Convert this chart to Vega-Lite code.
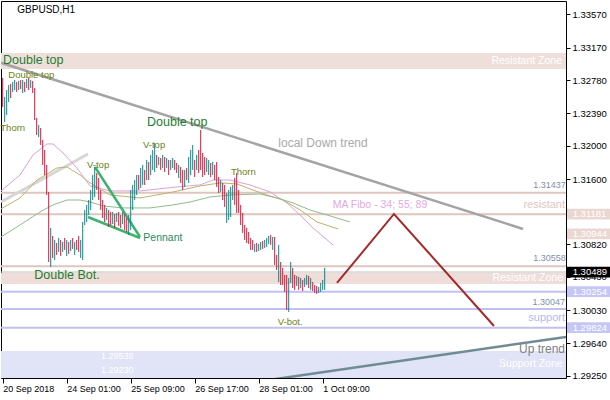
{
"$schema": "https://vega.github.io/schema/vega-lite/v6.json",
"width": 565, "height": 377,
"autosize": {"type": "none"},
"padding": {"left": 1, "top": 1, "right": 44, "bottom": 22},
"background": "white",
"config": {"view": {"stroke": "#000000", "strokeWidth": 1}, "font": "Liberation Sans",
 "axis": {"labelOverlap": false, "labelBound": false, "labelFlush": false, "grid": false, "domain": false, "title": null, "tickColor": "#000000", "labelColor": "#000000"}},
"datasets": {
"zones": [{"z":"top","lo":1.32916,"hi":1.33107},{"z":"mid","lo":1.30346,"hi":1.30478},{"z":"sup","lo":1.29222,"hi":1.29545}],
"levels": [{"p":1.31437,"k":"pink"},{"p":1.31181,"k":"pink"},{"p":1.30558,"k":"pink"},{"p":1.30254,"k":"lav"},{"p":1.30047,"k":"lav"},{"p":1.29824,"k":"lav"},{"p":1.30489,"k":"gray"}],
"ma": [
{"m":"pink","i":-0.85,"p":1.31458},{"m":"pink","i":8.65,"p":1.31649},{"m":"pink","i":15.15,"p":1.31888},{"m":"pink","i":22.15,"p":1.3202},{"m":"pink","i":25.15,"p":1.3202},{"m":"pink","i":30.15,"p":1.31912},{"m":"pink","i":37.15,"p":1.31733},{"m":"pink","i":43.65,"p":1.31518},{"m":"pink","i":53.65,"p":1.31458},{"m":"pink","i":68.65,"p":1.31458},{"m":"pink","i":87.15,"p":1.31506},{"m":"pink","i":98.65,"p":1.3153},{"m":"pink","i":105.15,"p":1.31589},{"m":"pink","i":113.65,"p":1.31589},{"m":"pink","i":123.65,"p":1.3153},{"m":"pink","i":133.65,"p":1.31446},{"m":"pink","i":142.15,"p":1.31315},{"m":"pink","i":148.65,"p":1.31171},{"m":"pink","i":155.15,"p":1.31016},{"m":"pink","i":165.15,"p":1.30813},
{"m":"olive","i":-0.85,"p":1.31243},{"m":"olive","i":8.65,"p":1.31374},{"m":"olive","i":17.15,"p":1.31589},{"m":"olive","i":27.15,"p":1.31733},{"m":"olive","i":32.15,"p":1.31745},{"m":"olive","i":38.65,"p":1.31649},{"m":"olive","i":43.65,"p":1.31554},{"m":"olive","i":53.65,"p":1.3141},{"m":"olive","i":68.65,"p":1.31374},{"m":"olive","i":85.15,"p":1.31446},{"m":"olive","i":98.65,"p":1.31518},{"m":"olive","i":108.65,"p":1.31554},{"m":"olive","i":117.15,"p":1.31542},{"m":"olive","i":123.65,"p":1.31482},{"m":"olive","i":132.15,"p":1.3141},{"m":"olive","i":140.15,"p":1.3135},{"m":"olive","i":148.65,"p":1.31231},{"m":"olive","i":157.15,"p":1.31087},{"m":"olive","i":167.65,"p":1.31004},
{"m":"green","i":-0.85,"p":1.30908},{"m":"green","i":8.65,"p":1.31051},{"m":"green","i":18.65,"p":1.31207},{"m":"green","i":25.15,"p":1.31291},{"m":"green","i":32.15,"p":1.3135},{"m":"green","i":38.65,"p":1.3135},{"m":"green","i":43.65,"p":1.31326},{"m":"green","i":50.15,"p":1.31279},{"m":"green","i":60.15,"p":1.31255},{"m":"green","i":73.65,"p":1.31255},{"m":"green","i":85.15,"p":1.31291},{"m":"green","i":93.65,"p":1.31326},{"m":"green","i":103.65,"p":1.31386},{"m":"green","i":113.65,"p":1.3141},{"m":"green","i":128.65,"p":1.31422},{"m":"green","i":137.15,"p":1.31374},{"m":"green","i":145.15,"p":1.31315},{"m":"green","i":153.65,"p":1.31231},{"m":"green","i":162.15,"p":1.31171},{"m":"green","i":173.65,"p":1.31087}
],
"paths": [
{"g":"lg","i":-0.85,"p":1.31326},{"g":"lg","i":42.65,"p":1.319},
{"g":"down","i":-0.85,"p":1.3299},{"g":"down","i":260.15,"p":1.31004},
{"g":"up","i":133.65,"p":1.292},{"g":"up","i":281.65,"p":1.29713},
{"g":"red","i":167.15,"p":1.30358},{"g":"red","i":195.65,"p":1.31183},{"g":"red","i":245.65,"p":1.29844},
{"g":"pen1","i":46.15,"p":1.31745},{"g":"pen1","i":68.65,"p":1.30908},
{"g":"pen2","i":42.65,"p":1.31147},{"g":"pen2","i":68.65,"p":1.30896}
],
"bars": [
{"i":0,"h":1.32809,"l":1.32462,"d":"d"},{"i":1,"h":1.32582,"l":1.32283,"d":"u"},{"i":2,"h":1.32665,"l":1.32366,"d":"u"},{"i":3,"h":1.32725,"l":1.32522,"d":"u"},{"i":4,"h":1.32737,"l":1.3257,"d":"d"},{"i":5,"h":1.32761,"l":1.32641,"d":"u"},{"i":6,"h":1.32785,"l":1.32665,"d":"u"},{"i":7,"h":1.32761,"l":1.32641,"d":"d"},{"i":8,"h":1.32773,"l":1.32665,"d":"u"},{"i":9,"h":1.32785,"l":1.32677,"d":"d"},
{"i":10,"h":1.32785,"l":1.32629,"d":"u"},{"i":11,"h":1.32761,"l":1.32641,"d":"d"},{"i":12,"h":1.32797,"l":1.32689,"d":"u"},{"i":13,"h":1.32809,"l":1.32665,"d":"d"},{"i":14,"h":1.32785,"l":1.32689,"d":"u"},{"i":15,"h":1.32773,"l":1.32629,"d":"d"},{"i":16,"h":1.32689,"l":1.32307,"d":"d"},{"i":17,"h":1.32331,"l":1.32127,"d":"d"},{"i":18,"h":1.32247,"l":1.32103,"d":"u"},{"i":19,"h":1.32211,"l":1.32008,"d":"d"},
{"i":20,"h":1.32068,"l":1.31769,"d":"d"},{"i":21,"h":1.31948,"l":1.31649,"d":"d"},{"i":22,"h":1.31769,"l":1.3141,"d":"d"},{"i":23,"h":1.31446,"l":1.30609,"d":"d"},{"i":24,"h":1.31016,"l":1.3055,"d":"u"},{"i":25,"h":1.3092,"l":1.30657,"d":"d"},{"i":26,"h":1.30872,"l":1.30633,"d":"u"},{"i":27,"h":1.30836,"l":1.30693,"d":"d"},{"i":28,"h":1.30896,"l":1.30729,"d":"u"},{"i":29,"h":1.30872,"l":1.30681,"d":"d"},
{"i":30,"h":1.30848,"l":1.30729,"d":"u"},{"i":31,"h":1.30896,"l":1.30753,"d":"d"},{"i":32,"h":1.30872,"l":1.30681,"d":"u"},{"i":33,"h":1.30848,"l":1.30705,"d":"d"},{"i":34,"h":1.30872,"l":1.30741,"d":"u"},{"i":35,"h":1.30896,"l":1.30765,"d":"d"},{"i":36,"h":1.30848,"l":1.30693,"d":"u"},{"i":37,"h":1.30872,"l":1.30753,"d":"d"},{"i":38,"h":1.3092,"l":1.30729,"d":"d"},{"i":39,"h":1.30872,"l":1.30657,"d":"u"},
{"i":40,"h":1.31087,"l":1.30633,"d":"u"},{"i":41,"h":1.31231,"l":1.31051,"d":"u"},{"i":42,"h":1.31291,"l":1.31087,"d":"u"},{"i":43,"h":1.3135,"l":1.31171,"d":"u"},{"i":44,"h":1.3147,"l":1.31231,"d":"u"},{"i":45,"h":1.31649,"l":1.3135,"d":"u"},{"i":46,"h":1.31745,"l":1.31386,"d":"u"},{"i":47,"h":1.31673,"l":1.3147,"d":"d"},{"i":48,"h":1.31613,"l":1.3135,"d":"d"},{"i":49,"h":1.3147,"l":1.31231,"d":"d"},
{"i":50,"h":1.3135,"l":1.31135,"d":"d"},{"i":51,"h":1.31291,"l":1.31087,"d":"d"},{"i":52,"h":1.31255,"l":1.31111,"d":"u"},{"i":53,"h":1.31231,"l":1.31028,"d":"d"},{"i":54,"h":1.31207,"l":1.31051,"d":"d"},{"i":55,"h":1.31207,"l":1.31063,"d":"u"},{"i":56,"h":1.31183,"l":1.31016,"d":"d"},{"i":57,"h":1.31195,"l":1.31087,"d":"u"},{"i":58,"h":1.31207,"l":1.3104,"d":"d"},{"i":59,"h":1.31171,"l":1.31016,"d":"d"},
{"i":60,"h":1.31207,"l":1.31063,"d":"u"},{"i":61,"h":1.31183,"l":1.30992,"d":"d"},{"i":62,"h":1.31135,"l":1.30968,"d":"d"},{"i":63,"h":1.31171,"l":1.30932,"d":"u"},{"i":64,"h":1.3147,"l":1.30992,"d":"u"},{"i":65,"h":1.3153,"l":1.31231,"d":"u"},{"i":66,"h":1.31589,"l":1.3135,"d":"u"},{"i":67,"h":1.31649,"l":1.3141,"d":"u"},{"i":68,"h":1.31649,"l":1.3147,"d":"d"},{"i":69,"h":1.31733,"l":1.31494,"d":"u"},
{"i":70,"h":1.31769,"l":1.3153,"d":"u"},{"i":71,"h":1.31709,"l":1.3153,"d":"d"},{"i":72,"h":1.31829,"l":1.31589,"d":"u"},{"i":73,"h":1.31805,"l":1.31589,"d":"d"},{"i":74,"h":1.31888,"l":1.31649,"d":"u"},{"i":75,"h":1.31948,"l":1.31709,"d":"u"},{"i":76,"h":1.32032,"l":1.31685,"d":"u"},{"i":77,"h":1.31888,"l":1.31733,"d":"d"},{"i":78,"h":1.31864,"l":1.31769,"d":"u"},{"i":79,"h":1.31852,"l":1.31709,"d":"d"},
{"i":80,"h":1.31888,"l":1.31733,"d":"u"},{"i":81,"h":1.31864,"l":1.31685,"d":"d"},{"i":82,"h":1.31852,"l":1.31733,"d":"u"},{"i":83,"h":1.31829,"l":1.31649,"d":"d"},{"i":84,"h":1.31829,"l":1.31709,"d":"u"},{"i":85,"h":1.31852,"l":1.31733,"d":"u"},{"i":86,"h":1.31829,"l":1.31709,"d":"d"},{"i":87,"h":1.31793,"l":1.31673,"d":"d"},{"i":88,"h":1.31769,"l":1.31613,"d":"u"},{"i":89,"h":1.31745,"l":1.31554,"d":"d"},
{"i":90,"h":1.31709,"l":1.3147,"d":"d"},{"i":91,"h":1.31709,"l":1.31506,"d":"u"},{"i":92,"h":1.31733,"l":1.31589,"d":"d"},{"i":93,"h":1.31864,"l":1.31554,"d":"u"},{"i":94,"h":1.31948,"l":1.31649,"d":"u"},{"i":95,"h":1.32008,"l":1.31709,"d":"u"},{"i":96,"h":1.31829,"l":1.31625,"d":"d"},{"i":97,"h":1.31888,"l":1.31709,"d":"u"},{"i":98,"h":1.31948,"l":1.31673,"d":"d"},{"i":99,"h":1.32187,"l":1.31709,"d":"d"},
{"i":100,"h":1.31912,"l":1.31625,"d":"d"},{"i":101,"h":1.31864,"l":1.31649,"d":"d"},{"i":102,"h":1.31852,"l":1.31685,"d":"u"},{"i":103,"h":1.31829,"l":1.31649,"d":"u"},{"i":104,"h":1.31793,"l":1.31625,"d":"d"},{"i":105,"h":1.31805,"l":1.31649,"d":"u"},{"i":106,"h":1.31769,"l":1.31589,"d":"d"},{"i":107,"h":1.31805,"l":1.31506,"d":"d"},{"i":108,"h":1.31625,"l":1.31434,"d":"d"},{"i":109,"h":1.31589,"l":1.31446,"d":"u"},
{"i":110,"h":1.31554,"l":1.3135,"d":"d"},{"i":111,"h":1.3153,"l":1.31267,"d":"d"},{"i":112,"h":1.31434,"l":1.31075,"d":"u"},{"i":113,"h":1.3147,"l":1.31111,"d":"u"},{"i":114,"h":1.31506,"l":1.31147,"d":"u"},{"i":115,"h":1.3153,"l":1.3135,"d":"u"},{"i":116,"h":1.31613,"l":1.31291,"d":"d"},{"i":117,"h":1.31673,"l":1.31195,"d":"d"},{"i":118,"h":1.3147,"l":1.31195,"d":"d"},{"i":119,"h":1.31291,"l":1.31051,"d":"d"},
{"i":120,"h":1.31195,"l":1.30956,"d":"d"},{"i":121,"h":1.31051,"l":1.30872,"d":"d"},{"i":122,"h":1.31016,"l":1.30836,"d":"d"},{"i":123,"h":1.30968,"l":1.30825,"d":"d"},{"i":124,"h":1.30896,"l":1.30753,"d":"d"},{"i":125,"h":1.30872,"l":1.30753,"d":"d"},{"i":126,"h":1.30825,"l":1.30729,"d":"u"},{"i":127,"h":1.30836,"l":1.30729,"d":"d"},{"i":128,"h":1.30825,"l":1.30741,"d":"u"},{"i":129,"h":1.30848,"l":1.30753,"d":"u"},
{"i":130,"h":1.3086,"l":1.30765,"d":"d"},{"i":131,"h":1.30872,"l":1.30777,"d":"u"},{"i":132,"h":1.30896,"l":1.30789,"d":"u"},{"i":133,"h":1.3092,"l":1.30825,"d":"u"},{"i":134,"h":1.30932,"l":1.30813,"d":"d"},{"i":135,"h":1.30908,"l":1.30753,"d":"u"},{"i":136,"h":1.30908,"l":1.30573,"d":"d"},{"i":137,"h":1.30693,"l":1.30514,"d":"d"},{"i":138,"h":1.30813,"l":1.3037,"d":"u"},{"i":139,"h":1.30609,"l":1.30334,"d":"d"},
{"i":140,"h":1.30538,"l":1.30334,"d":"d"},{"i":141,"h":1.30454,"l":1.30251,"d":"d"},{"i":142,"h":1.30454,"l":1.30036,"d":"d"},{"i":143,"h":1.30418,"l":1.30012,"d":"u"},{"i":144,"h":1.30609,"l":1.30358,"d":"u"},{"i":145,"h":1.30538,"l":1.30298,"d":"d"},{"i":146,"h":1.30454,"l":1.30275,"d":"d"},{"i":147,"h":1.30442,"l":1.30322,"d":"u"},{"i":148,"h":1.3043,"l":1.30275,"d":"d"},{"i":149,"h":1.30418,"l":1.30298,"d":"u"},
{"i":150,"h":1.30394,"l":1.30263,"d":"d"},{"i":151,"h":1.30418,"l":1.3031,"d":"u"},{"i":152,"h":1.30454,"l":1.30334,"d":"u"},{"i":153,"h":1.30442,"l":1.30298,"d":"d"},{"i":154,"h":1.30418,"l":1.30275,"d":"u"},{"i":155,"h":1.3037,"l":1.30263,"d":"d"},{"i":156,"h":1.30334,"l":1.30239,"d":"d"},{"i":157,"h":1.30322,"l":1.30227,"d":"d"},{"i":158,"h":1.3031,"l":1.30239,"d":"u"},{"i":159,"h":1.30358,"l":1.30251,"d":"u"},
{"i":160,"h":1.30394,"l":1.30275,"d":"u"},{"i":161,"h":1.30538,"l":1.30275,"d":"u"}
],
"labels": [
{"s":"olive","t":"Double top","i":2.8,"p":1.32845},{"s":"olive","t":"Thorn","i":-1.2,"p":1.32211},{"s":"olive","t":"V-top","i":42.15,"p":1.31769},{"s":"olive","t":"V-top","i":70.15,"p":1.32008},{"s":"olive","t":"Thorn","i":114.15,"p":1.31685},{"s":"olive","t":"V-bot.","i":137.5,"p":1.29892},
{"s":"green","t":"Double top","i":0.15,"p":1.33024},{"s":"green","t":"Double top","i":72.15,"p":1.32283},{"s":"green","t":"Double Bot.","i":15.8,"p":1.30454},
{"s":"pennant","t":"Pennant","i":70.3,"p":1.30896},
{"s":"trend","t":"local Down trend","i":137.8,"p":1.32032},
{"s":"ma","t":"MA Fibo - 34; 55; 89","i":165,"p":1.31291},
{"s":"res","t":"resistant","i":281.15,"p":1.31291},
{"s":"sup","t":"support","i":281.15,"p":1.2994},
{"s":"up","t":"Up trend","i":281.15,"p":1.29569},
{"s":"zone","t":"Resistant Zone","i":279.65,"p":1.33015},{"s":"zone","t":"Resistant Zone","i":280.15,"p":1.30415},{"s":"zone","t":"Support Zone","i":280,"p":1.2939},
{"s":"zval","t":"1.29538","i":49.15,"p":1.29486},{"s":"zval","t":"1.29230","i":49.15,"p":1.29318},
{"s":"lvl","t":"1.31437","i":281.5,"p":1.31533},{"s":"lvl","t":"1.30558","i":281.5,"p":1.30661},{"s":"lvl","t":"1.30047","i":281.15,"p":1.30128},
{"s":"title","t":"GBPUSD,H1","i":7.3,"p":1.33621}
],
"tags": [{"p":1.31181,"k":"pink"},{"p":1.30944,"k":"pink"},{"p":1.30489,"k":"black"},{"p":1.30254,"k":"lav"},{"p":1.29824,"k":"lav"}]
},
"layer": [
{"data":{"name":"zones"},"mark":{"type":"rect","clip":true},
 "encoding":{"y":{"field":"lo","type":"quantitative"},"y2":{"field":"hi"},
 "fill":{"field":"z","type":"nominal","scale":{"domain":["top","mid","sup"],"range":["#EEDFDB","#EEDDD8","#E1E3F6"]},"legend":null}}},
{"data":{"name":"levels"},"transform":[{"filter":"datum.k=='pink'"}],"mark":{"type":"rule","color":"#DEC6C0","strokeWidth":2},
 "encoding":{"y":{"field":"p","type":"quantitative"}}},
{"data":{"name":"levels"},"transform":[{"filter":"datum.k=='lav'"}],"mark":{"type":"rule","color":"#C0C0F4","strokeWidth":2},
 "encoding":{"y":{"field":"p","type":"quantitative"}}},
{"data":{"name":"levels"},"transform":[{"filter":"datum.k=='gray'"}],"mark":{"type":"rule","color":"#BEBEBE","strokeWidth":1},
 "encoding":{"y":{"field":"p","type":"quantitative"}}},
{"mark":{"type":"rule","color":"#DEC6C0","strokeWidth":1,"strokeDash":[4,3]},
 "encoding":{"x":{"datum":-0.85,"type":"quantitative"},"x2":{"datum":68.65},"y":{"datum":1.30944,"type":"quantitative"}}},
{"mark":{"type":"rule","color":"#DEC6C0","strokeWidth":2},
 "encoding":{"x":{"datum":68.65,"type":"quantitative"},"x2":{"datum":281.65},"y":{"datum":1.30944,"type":"quantitative"}}},
{"data":{"name":"paths"},"transform":[{"filter":"datum.g=='lg'"}],"mark":{"type":"line","color":"#D6D6D6","strokeWidth":3,"clip":true},
 "encoding":{"x":{"field":"i","type":"quantitative"},"y":{"field":"p","type":"quantitative"}}},
{"data":{"name":"ma"},"mark":{"type":"line","strokeWidth":1,"clip":true},
 "encoding":{"x":{"field":"i","type":"quantitative"},"y":{"field":"p","type":"quantitative"},
 "stroke":{"field":"m","type":"nominal","scale":{"domain":["pink","olive","green"],"range":["#DDA0DD","#BDB36A","#8FBC8F"]},"legend":null}}},
{"data":{"name":"paths"},"transform":[{"filter":"datum.g=='down'"}],"mark":{"type":"line","color":"#A4A4A4","strokeWidth":2.5,"clip":true},
 "encoding":{"x":{"field":"i","type":"quantitative"},"y":{"field":"p","type":"quantitative"}}},
{"data":{"name":"paths"},"transform":[{"filter":"datum.g=='up'"}],"mark":{"type":"line","color":"#6F8C93","strokeWidth":2.5,"clip":true},
 "encoding":{"x":{"field":"i","type":"quantitative"},"y":{"field":"p","type":"quantitative"}}},
{"data":{"name":"paths"},"transform":[{"filter":"datum.g=='pen1' || datum.g=='pen2'"}],"mark":{"type":"line","color":"#3CB371","strokeWidth":2.5,"clip":true},
 "encoding":{"x":{"field":"i","type":"quantitative"},"y":{"field":"p","type":"quantitative"},"detail":{"field":"g"}}},
{"data":{"name":"paths"},"transform":[{"filter":"datum.g=='red'"}],"mark":{"type":"line","color":"#A52A2A","strokeWidth":2,"clip":true},
 "encoding":{"x":{"field":"i","type":"quantitative"},"y":{"field":"p","type":"quantitative"}}},
{"data":{"name":"bars"},"mark":{"type":"rule","strokeWidth":1,"clip":true},
 "encoding":{
 "x":{"field":"i","type":"quantitative","scale":{"domain":[-0.85,281.65],"nice":false,"zero":false},
   "axis":{"values":[0,32,64,96,128,160],"tickCount":30,"labelExpr":"datum.value==0?'20 Sep 2018':datum.value==32?'24 Sep 01:00':datum.value==64?'25 Sep 09:00':datum.value==96?'26 Sep 17:00':datum.value==128?'28 Sep 01:00':'1 Oct 09:00'","title":null,"grid":false,"domain":false,"ticks":true,"tickSize":5,"tickColor":"#000000","labelAlign":"left","labelBaseline":"top","labelPadding":1,"labelDx":-1,"labelFontSize":9,"labelColor":"#000000","labelOverlap":false,"labelBound":false,"labelFlush":false}},
 "y":{"field":"l","type":"quantitative","scale":{"domain":[1.29222,1.33729],"nice":false,"zero":false},
   "axis":{"orient":"right","values":[1.3357,1.3317,1.3278,1.3239,1.32,1.316,1.3082,1.3043,1.3003,1.2964,1.2925],"tickCount":30,"format":".5f","title":null,"grid":false,"domain":false,"ticks":true,"tickSize":4,"tickColor":"#000000","labelPadding":2,"labelFontSize":9.5,"labelColor":"#000000","labelBaseline":"middle","labelOverlap":false,"labelBound":false,"labelFlush":false}},
 "y2":{"field":"h"},
 "color":{"field":"d","type":"nominal","scale":{"domain":["u","d"],"range":["#008B8B","#DC143C"]},"legend":null}}},
{"data":{"name":"labels"},"transform":[{"filter":"datum.s=='olive'"}],"mark":{"type":"text","align":"left","baseline":"middle","fontSize":9.5,"color":"#6B7F12"},
 "encoding":{"x":{"field":"i","type":"quantitative"},"y":{"field":"p","type":"quantitative"},"text":{"field":"t"}}},
{"data":{"name":"labels"},"transform":[{"filter":"datum.s=='green'"}],"mark":{"type":"text","align":"left","baseline":"middle","fontSize":12.5,"color":"#1E7D32"},
 "encoding":{"x":{"field":"i","type":"quantitative"},"y":{"field":"p","type":"quantitative"},"text":{"field":"t"}}},
{"data":{"name":"labels"},"transform":[{"filter":"datum.s=='pennant'"}],"mark":{"type":"text","align":"left","baseline":"middle","fontSize":10.5,"color":"#2E8B57"},
 "encoding":{"x":{"field":"i","type":"quantitative"},"y":{"field":"p","type":"quantitative"},"text":{"field":"t"}}},
{"data":{"name":"labels"},"transform":[{"filter":"datum.s=='trend'"}],"mark":{"type":"text","align":"left","baseline":"middle","fontSize":12,"color":"#A9A9A9"},
 "encoding":{"x":{"field":"i","type":"quantitative"},"y":{"field":"p","type":"quantitative"},"text":{"field":"t"}}},
{"data":{"name":"labels"},"transform":[{"filter":"datum.s=='ma'"}],"mark":{"type":"text","align":"left","baseline":"middle","fontSize":10.5,"color":"#E3A8E3"},
 "encoding":{"x":{"field":"i","type":"quantitative"},"y":{"field":"p","type":"quantitative"},"text":{"field":"t"}}},
{"data":{"name":"labels"},"transform":[{"filter":"datum.s=='res'"}],"mark":{"type":"text","align":"right","baseline":"middle","fontSize":11,"color":"#E2C6C0"},
 "encoding":{"x":{"field":"i","type":"quantitative"},"y":{"field":"p","type":"quantitative"},"text":{"field":"t"}}},
{"data":{"name":"labels"},"transform":[{"filter":"datum.s=='sup'"}],"mark":{"type":"text","align":"right","baseline":"middle","fontSize":11,"color":"#B6B6F0"},
 "encoding":{"x":{"field":"i","type":"quantitative"},"y":{"field":"p","type":"quantitative"},"text":{"field":"t"}}},
{"data":{"name":"labels"},"transform":[{"filter":"datum.s=='up'"}],"mark":{"type":"text","align":"right","baseline":"middle","fontSize":12,"color":"#808080"},
 "encoding":{"x":{"field":"i","type":"quantitative"},"y":{"field":"p","type":"quantitative"},"text":{"field":"t"}}},
{"data":{"name":"labels"},"transform":[{"filter":"datum.s=='zone'"}],"mark":{"type":"text","align":"right","baseline":"middle","fontSize":10.5,"color":"#FFFFFF"},
 "encoding":{"x":{"field":"i","type":"quantitative"},"y":{"field":"p","type":"quantitative"},"text":{"field":"t"}}},
{"data":{"name":"labels"},"transform":[{"filter":"datum.s=='zval'"}],"mark":{"type":"text","align":"left","baseline":"middle","fontSize":9,"color":"#FFFFFF"},
 "encoding":{"x":{"field":"i","type":"quantitative"},"y":{"field":"p","type":"quantitative"},"text":{"field":"t"}}},
{"data":{"name":"labels"},"transform":[{"filter":"datum.s=='lvl'"}],"mark":{"type":"text","align":"right","baseline":"middle","fontSize":9,"color":"#8090A8"},
 "encoding":{"x":{"field":"i","type":"quantitative"},"y":{"field":"p","type":"quantitative"},"text":{"field":"t"}}},
{"data":{"name":"labels"},"transform":[{"filter":"datum.s=='title'"}],"mark":{"type":"text","align":"left","baseline":"middle","fontSize":10,"color":"#000000"},
 "encoding":{"x":{"field":"i","type":"quantitative"},"y":{"field":"p","type":"quantitative"},"text":{"field":"t"}}},
{"mark":{"type":"point","shape":"triangle-down","filled":true,"color":"#000000","opacity":1,"size":28},
 "encoding":{"x":{"datum":2.65,"type":"quantitative"},"y":{"datum":1.33621,"type":"quantitative"}}},
{"data":{"name":"tags"},"mark":{"type":"point","shape":"M-1,-0.25H1V0.25H-1Z","filled":true,"opacity":1,"size":1849,"strokeWidth":0},
 "encoding":{"x":{"datum":292.9,"type":"quantitative"},"y":{"field":"p","type":"quantitative"},
 "fill":{"field":"k","type":"nominal","scale":{"domain":["pink","black","lav"],"range":["#EBD7D2","#000000","#C6C6F6"]},"legend":null}}},
{"data":{"name":"tags"},"mark":{"type":"text","align":"left","baseline":"middle","fontSize":9.5,"color":"#FFFFFF"},
 "encoding":{"x":{"datum":285,"type":"quantitative"},"y":{"field":"p","type":"quantitative"},"text":{"field":"p","type":"quantitative","format":".5f"}}}
],
"resolve": {"scale": {"fill": "independent"}}
}
